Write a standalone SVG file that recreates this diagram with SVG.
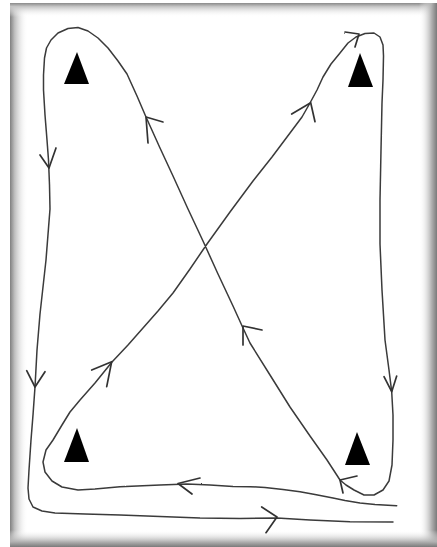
<svg xmlns="http://www.w3.org/2000/svg" width="437" height="547" viewBox="0 0 437 547">
<defs>
<linearGradient id="gL" x1="0" y1="0" x2="1" y2="0"><stop offset="0" stop-color="#808080"/><stop offset="0.25" stop-color="#bdbdbd"/><stop offset="1" stop-color="#ffffff" stop-opacity="0"/></linearGradient>
<linearGradient id="gR" x1="1" y1="0" x2="0" y2="0"><stop offset="0" stop-color="#7a7a7a"/><stop offset="0.3" stop-color="#b0b0b0"/><stop offset="1" stop-color="#ffffff" stop-opacity="0"/></linearGradient>
<linearGradient id="gT" x1="0" y1="0" x2="0" y2="1"><stop offset="0" stop-color="#8a8a8a"/><stop offset="0.25" stop-color="#c4c4c4"/><stop offset="1" stop-color="#ffffff" stop-opacity="0"/></linearGradient>
<linearGradient id="gB" x1="0" y1="1" x2="0" y2="0"><stop offset="0" stop-color="#7a7a7a"/><stop offset="0.3" stop-color="#b0b0b0"/><stop offset="1" stop-color="#ffffff" stop-opacity="0"/></linearGradient>
<filter id="rough" x="-5%" y="-5%" width="110%" height="110%"><feTurbulence type="fractalNoise" baseFrequency="0.9" numOctaves="2" seed="4"/><feDisplacementMap in="SourceGraphic" scale="1.4" xChannelSelector="R" yChannelSelector="G"/></filter>
</defs>
<style>
.route{fill:none;stroke:#3a3a3a;stroke-width:1.5;stroke-linejoin:round;stroke-linecap:round}
.arrow{fill:none;stroke:#333;stroke-width:1.7;stroke-linejoin:round;stroke-linecap:round}
.cone{fill:#000}
</style>
<rect width="437" height="547" fill="#fff"/>
<g id="frame">
<rect x="10" y="3" width="18" height="544" fill="url(#gL)"/>
<rect x="10" y="3" width="427" height="14" fill="url(#gT)"/>
<rect x="419" y="3" width="18" height="544" fill="url(#gR)"/>
<rect x="10" y="530" width="427" height="17" fill="url(#gB)"/>
</g>
<g id="cone-top-left"><polygon class="cone" points="64,84 89,84 77,52"/></g>
<g id="cone-top-right"><polygon class="cone" points="348,87 373,87 360,53"/></g>
<g id="cone-bottom-left"><polygon class="cone" points="64,462 89,462 77,428"/></g>
<g id="cone-bottom-right"><polygon class="cone" points="345,465 370,465 357,432"/></g>
<g id="connectors" filter="url(#rough)">
<path class="route" d="M396.7,505.7 L375,504.5 L360,503 L345,500.5 L333,498 L315,494.5 L300,491.7 L283,489.5 L265,487.5 L250,486.7 L233,486.5 L210,485 L187,484 L160,485 L120,486.7 L95,489 L78,490 L62,487 L52,481 L45,472 L43,462 L46,450 L53,440 L62,425 L70,412 L80,400 L95,383 L112,362 L128,345 L143,328 L158,311 L173,293 L190,269 L207,244 L230,212 L253,181 L272,157 L290,133 L302,117 L310,103 L317,90 L323,77 L331,64 L340,53 L348,43 L356,37 L365,33.5 L374,33 L380,37 L383,45 L383.5,56 L383,80 L382,103 L381,150 L380,200 L380,244 L382,290 L385,340 L389,370 L391.7,391.7 L393,415 L393,440 L392,465 L389,481 L383,490 L374,495 L364,495 L354,490 L346,485 L340,480 L327,460 L310,436 L290,407 L270,375 L250,343 L243,328 L233,306 L218,274 L203,241 L188,209 L173,176 L160,148 L146,117 L137,96 L127,74 L118,61 L108,48 L98,38 L88,31 L78,27.5 L68,28.5 L58,33 L51,40 L46.5,48 L44.5,58 L43.5,75 L43.5,90 L45,115 L47,140 L48.5,160 L49.5,185 L50,209 L46,260 L40,314 L37,350 L35,387 L33,415 L31,440 L29,470 L28,488 L29,499 L33,507 L42,511 L55,513 L85,514 L120,515 L160,516.5 L200,518 L240,518.5 L277,518 L310,520 L350,521.7 L393,522"/>
<path class="arrow" d="M40,155 L49,168 L56,148"/>
<path class="arrow" d="M26.7,370.7 L35,387 L45,371.7"/>
<path class="arrow" d="M148,143 L146,117 L163,122"/>
<path class="arrow" d="M243,345 L243,326 L262,330"/>
<path class="arrow" d="M343,493 L340,480 L357,476"/>
<path class="arrow" d="M91.7,370 L111.7,361.7 L106.7,386.7"/>
<path class="arrow" d="M291.7,114 L310.7,102.7 L315,121.7"/>
<path class="arrow" d="M345,32 L359,34 L355,47"/>
<path class="arrow" d="M384,376.7 L391.7,391.7 L396.7,376"/>
<path class="arrow" d="M200,478 L178,483.5 L192,494"/>
<path class="arrow" d="M261.7,507 L277,517 L266,532.7"/>
</g>
</svg>
